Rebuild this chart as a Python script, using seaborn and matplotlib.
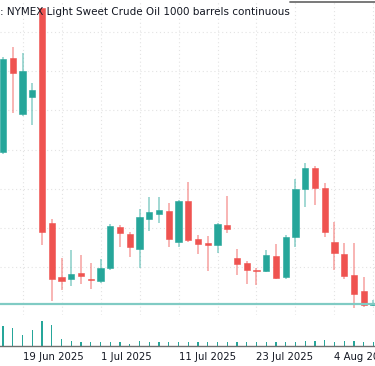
import pandas as pd
import seaborn as sns
import matplotlib.pyplot as plt
from matplotlib.patches import Rectangle

# daily candles (index = trading day position on the chart)
opens = [70.40, 74.00, 71.86, 72.51, 75.92, 67.68, 65.62, 65.54, 65.77, 65.54,
         65.46, 65.96, 67.53, 67.26, 66.69, 67.84, 68.03, 68.14, 66.96, 68.53,
         67.07, 66.92, 66.84, 67.61, 66.34, 66.15, 65.88, 65.85, 66.42, 65.62,
         67.15, 68.99, 69.79, 69.03, 66.96, 66.50, 65.69, 65.08, 64.54]
highs = [74.04, 74.43, 74.20, 73.05, 75.92, 67.84, 66.34, 66.65, 66.46, 66.15,
         66.31, 67.65, 67.61, 67.34, 68.22, 68.68, 68.68, 68.45, 68.57, 69.26,
         67.23, 67.19, 67.68, 68.72, 66.69, 66.23, 65.96, 66.65, 66.88, 67.23,
         69.37, 69.98, 69.87, 69.22, 67.72, 66.92, 66.92, 65.62, 64.74]
lows = [70.33, 71.90, 71.78, 71.44, 66.84, 64.70, 65.12, 65.27, 65.35, 65.16,
        65.39, 65.88, 66.77, 66.38, 65.96, 67.38, 67.68, 66.77, 66.77, 66.96,
        66.50, 65.85, 66.54, 67.30, 65.69, 65.35, 65.31, 65.81, 65.54, 65.54,
        66.77, 68.30, 68.37, 67.15, 65.88, 65.54, 64.43, 64.47, 64.51]
closes = [73.97, 73.43, 73.51, 72.78, 67.34, 65.54, 65.46, 65.73, 65.65, 65.50,
          65.96, 67.57, 67.30, 66.77, 67.91, 68.11, 68.18, 67.07, 68.53, 67.03,
          66.88, 66.84, 67.65, 67.45, 66.12, 65.88, 65.85, 66.46, 65.58, 67.15,
          68.99, 69.79, 69.03, 67.34, 66.54, 65.65, 64.97, 64.54, 64.60]
volumes = [200, 183, 110, 160, 250, 210, 67, 50, 43, 43,
           40, 43, 40, 17, 47, 40, 40, 43, 43, 43,
           43, 40, 40, 43, 40, 43, 40, 43, 40, 43,
           43, 47, 47, 63, 43, 47, 47, 43, 43]

tick_pos = [2, 10, 18, 26, 34]
tick_labels = ["19 Jun 2025", "1 Jul 2025", "11 Jul 2025", "23 Jul 2025", "4 Aug 2025"]
title = ": NYMEX Light Sweet Crude Oil 1000 barrels continuous"

df = pd.DataFrame({"open": opens, "high": highs, "low": lows,
                   "close": closes, "volume": volumes})
df["day"] = range(len(df))

green = "#26a69a"
red = "#ef5350"
xlim = (-0.308, 38.154)

sns.set_theme(style="white")
plt.rcParams["font.family"] = ["DejaVu Sans"]

fig = plt.figure(figsize=(3.75, 3.66), dpi=100)
W, H = 375, 366

# price pane
ax = fig.add_axes([0, 1 - 315 / H, 1, 314 / H])
ax.set_facecolor("none")
for i, r in df.iterrows():
    up = r["close"] >= r["open"]
    c = green if up else red
    ax.vlines(r["day"], r["low"], r["high"], color=c, alpha=0.55, lw=1.1, zorder=2)
    lo = min(r["open"], r["close"])
    h = max(abs(r["close"] - r["open"]), 0.03)
    ax.add_patch(Rectangle((r["day"] - 0.33, lo), 0.66, h, facecolor=c,
                           edgecolor=c, lw=0.4, zorder=3))
ax.axhline(df["close"].iloc[-1], color="#80cbc4", lw=1.6, zorder=4)
ax.set_xlim(*xlim)
ax.set_ylim(64.16, 76.19)
ax.set_yticks([66, 67.5, 69, 70.5, 72, 73.5, 75])
ax.set_xticks(range(2, 39, 4))
ax.grid(True, color="#e3e3e3", lw=0.8, linestyle=(0, (1, 2.5)))
ax.tick_params(left=False, bottom=False, labelleft=False, labelbottom=False)
for s in ax.spines.values():
    s.set_visible(False)
ax.plot([290 / W, 1], [1 - 0.5 / 314, 1 - 0.5 / 314], transform=ax.transAxes,
        color="#6e6e6e", lw=1.3, clip_on=False)

# volume pane
vax = fig.add_axes([0, 1 - 346 / H, 1, 40 / H])
vax.set_facecolor("none")
sns.barplot(data=df, x="day", y="volume", native_scale=True, color=green,
            saturation=1, width=0.14, linewidth=0, errorbar=None, ax=vax)
vax.set_xlim(*xlim)
vax.set_ylim(0, 400)
vax.set_xlabel("")
vax.set_ylabel("")
vax.set_yticks([])
vax.set_xticks(tick_pos)
vax.set_xticklabels(tick_labels, ha="left", fontsize=7.3, color="#131722")
vax.tick_params(axis="x", length=3.5 * 0.72, width=1, color="#6e6e6e", pad=1.5)
for s in ["left", "right", "top"]:
    vax.spines[s].set_visible(False)
vax.spines["bottom"].set_color("#6e6e6e")
vax.spines["bottom"].set_linewidth(1)

fig.text(0.5 / W, 1 - 15 / H, title, fontsize=7.45, color="#131722",
         ha="left", va="baseline")

fig.savefig("out.png", dpi=100)
